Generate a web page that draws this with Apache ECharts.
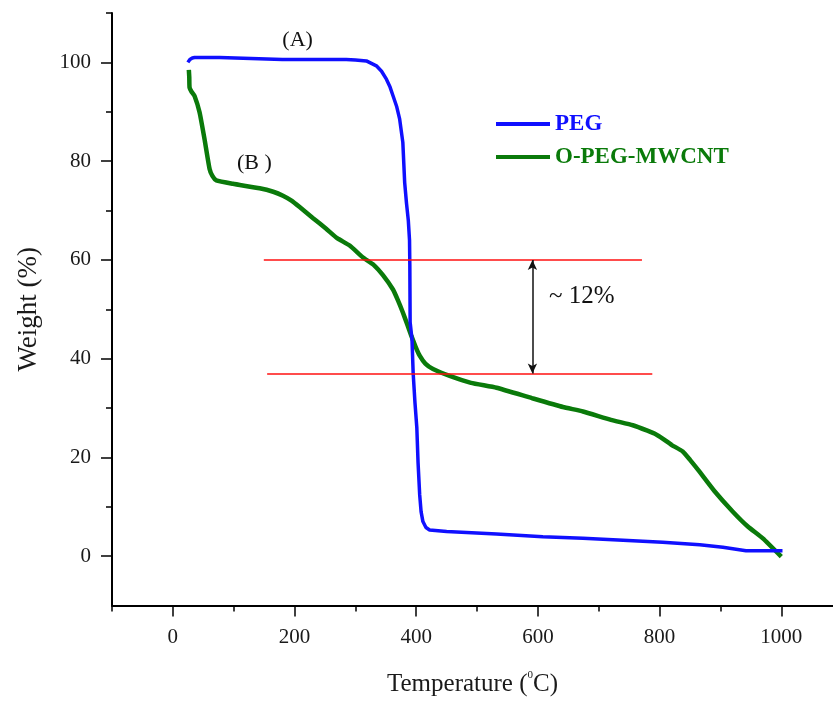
<!DOCTYPE html>
<html>
<head>
<meta charset="utf-8">
<title>TGA curves</title>
<script src="https://cdn.jsdelivr.net/npm/echarts@6/dist/echarts.min.js"></script>
<style>
  html, body { margin: 0; padding: 0; background: #ffffff; }
  #chart { width: 833px; height: 702px; }
</style>
</head>
<body>
<div id="chart"></div>
<script>
// Thermogravimetric curves: temperature (°C) vs remaining weight (%)
const pegTemp = [24.7, 28, 32, 35.7, 76.8, 78, 180, 285, 300, 318, 334.5, 343, 351, 357, 362, 368, 372.8, 378, 381, 384, 387, 389, 389.5, 390, 393, 395, 398, 401, 403, 405.7, 408, 411, 416, 422, 450, 532, 608, 674, 740, 805, 866, 904, 942, 1002];
const pegWeight = [100.0, 100.6, 100.9, 101.0, 101.0, 100.6, 100.6, 100.6, 100.5, 100.3, 99.3, 98.2, 96.6, 95.0, 93.2, 91.0, 88.5, 83.8, 75.7, 71.5, 68.0, 64.0, 58.9, 47.4, 44.0, 37.0, 31.0, 26.0, 19.0, 12.4, 9.0, 7.0, 5.8, 5.3, 5.0, 4.5, 3.9, 3.6, 3.2, 2.8, 2.3, 1.8, 1.1, 1.1];

const cntTemp = [26.3, 27, 27.5, 31, 35.7, 43.9, 52, 60.4, 65, 71.4, 98.7, 142.6, 165, 181, 195, 208.4, 230, 252, 270, 290.6, 312.5, 330, 345.3, 361.8, 370, 378.2, 385, 392, 399, 405.7, 415, 427.6, 455, 490, 532, 590, 641, 674, 720, 756, 780, 795, 805, 820, 838, 850, 865.6, 890, 920.4, 945, 969.7, 1000];
const cntWeight = [98.5, 97.0, 94.9, 94.0, 93.2, 89.9, 84.5, 78.4, 77.0, 76.1, 75.4, 74.5, 73.8, 73.0, 72.0, 70.7, 68.5, 66.3, 64.4, 62.9, 60.5, 59.0, 56.9, 54.0, 51.8, 49.3, 47.0, 44.6, 42.4, 40.6, 39.0, 37.9, 36.5, 35.1, 34.1, 32.0, 30.2, 29.3, 27.6, 26.5, 25.4, 24.6, 23.8, 22.5, 21.2, 19.5, 17.1, 13.2, 9.0, 6.0, 3.6, -0.1];

// Axis tick values
const xMajorTicks = [0, 200, 400, 600, 800, 1000];
const xMinorTicks = [-100, 100, 300, 500, 700, 900];
const yMajorTicks = [0, 20, 40, 60, 80, 100];
const yMinorTicks = [10, 30, 50, 70, 90, 110];

// Horizontal reference levels and the weight-loss arrow
const refLevels = [
  { y: 60, from: 149.5, to: 771 },
  { y: 37, from: 155, to: 788 }
];
const gapArrow = { x: 591, top: 60, bottom: 37 };

// Text annotations placed in data coordinates
const noteNames = ['(A)', '(B )', '~ 12%'];
const noteX = [205, 134, 672];
const noteY = [104.4, 79.5, 52.6];
const noteSizes = [22, 22, 25];

const SERIF = '"Liberation Serif", "DejaVu Serif", serif';
const X_MIN = -100, X_MAX = 1085, Y_MIN = -10, Y_MAX = 110;

const zip = (a, b) => a.map((v, i) => [v, b[i]]);

const chart = echarts.init(document.getElementById('chart'), null, { renderer: 'canvas' });

const baseLabel = { fontFamily: SERIF, fontSize: 21, color: '#1a1a1a', formatter: v => String(v) };

const option = {
  backgroundColor: '#ffffff',
  animation: false,
  grid: { left: 112, right: 0, top: 13, bottom: 95, containLabel: false },
  legend: {
    left: 496,
    top: 112,
    padding: 0,
    orient: 'vertical',
    itemWidth: 54,
    itemHeight: 4,
    itemGap: 9,
    textStyle: { fontFamily: SERIF, fontSize: 23, fontWeight: 'bold', lineHeight: 24 },
    data: [
      { name: 'PEG', icon: 'rect', itemStyle: { color: '#1010ff' }, textStyle: { color: '#1010ff' } },
      { name: 'O-PEG-MWCNT', icon: 'rect', itemStyle: { color: '#0a7a0a' }, textStyle: { color: '#0a7a0a' } }
    ]
  },
  xAxis: [
    {
      type: 'value', min: X_MIN, max: X_MAX,
      axisLine: { show: true, onZero: false, lineStyle: { color: '#000', width: 2 } },
      axisTick: { show: true, customValues: xMajorTicks, length: 11, lineStyle: { color: '#000', width: 1.5 } },
      axisLabel: { show: true, customValues: xMajorTicks, margin: 21, ...baseLabel },
      splitLine: { show: false },
      name: '{t|Temperature (}{s|0}{t|C)}',
      nameLocation: 'middle',
      nameGap: 64,
      nameTextStyle: {
        rich: {
          t: { fontFamily: SERIF, fontSize: 25, color: '#1a1a1a', lineHeight: 30 },
          s: { fontFamily: SERIF, fontSize: 11, color: '#1a1a1a', lineHeight: 14, verticalAlign: 'top' }
        }
      }
    },
    {
      type: 'value', min: X_MIN, max: X_MAX, position: 'bottom', offset: 0,
      axisLine: { show: false, onZero: false },
      axisTick: { show: true, customValues: xMinorTicks, length: 6, lineStyle: { color: '#000', width: 1.5 } },
      axisLabel: { show: false },
      splitLine: { show: false }
    }
  ],
  yAxis: [
    {
      type: 'value', min: Y_MIN, max: Y_MAX,
      axisLine: { show: true, onZero: false, lineStyle: { color: '#000', width: 2 } },
      axisTick: { show: true, customValues: yMajorTicks, length: 11, lineStyle: { color: '#000', width: 1.5 } },
      axisLabel: { show: true, customValues: yMajorTicks, margin: 21, ...baseLabel },
      splitLine: { show: false },
      name: 'Weight (%)',
      nameLocation: 'middle',
      nameRotate: 90,
      nameGap: 70,
      nameTextStyle: { fontFamily: SERIF, fontSize: 27, color: '#1a1a1a' }
    },
    {
      type: 'value', min: Y_MIN, max: Y_MAX, position: 'left', offset: 0,
      axisLine: { show: false, onZero: false },
      axisTick: { show: true, customValues: yMinorTicks, length: 6, lineStyle: { color: '#000', width: 1.5 } },
      axisLabel: { show: false },
      splitLine: { show: false }
    }
  ],
  series: [
    {
      name: 'PEG', type: 'line', xAxisIndex: 0, yAxisIndex: 0,
      data: zip(pegTemp, pegWeight),
      symbol: 'none', smooth: false,
      lineStyle: { color: '#1010ff', width: 3.5 },
      itemStyle: { color: '#1010ff' },
      z: 3
    },
    {
      name: 'O-PEG-MWCNT', type: 'line', xAxisIndex: 0, yAxisIndex: 0,
      data: zip(cntTemp, cntWeight),
      symbol: 'none', smooth: 0.15,
      lineStyle: { color: '#0a7a0a', width: 4.5 },
      itemStyle: { color: '#0a7a0a' },
      z: 2
    },
    {
      name: 'levels', type: 'line', xAxisIndex: 0, yAxisIndex: 0,
      data: [], silent: true,
      markLine: {
        silent: true, symbol: 'none', animation: false,
        label: { show: false },
        lineStyle: { color: '#ff1010', width: 1.5, type: 'solid' },
        data: refLevels.map(r => [{ coord: [r.from, r.y] }, { coord: [r.to, r.y] }])
      },
      z: 4
    },
    {
      name: 'gap', type: 'line', xAxisIndex: 0, yAxisIndex: 0,
      data: [], silent: true,
      markLine: {
        silent: true, symbol: ['arrow', 'arrow'], symbolSize: [7, 10], animation: false,
        label: { show: false },
        lineStyle: { color: '#111', width: 1.5, type: 'solid' },
        data: [[{ coord: [gapArrow.x, gapArrow.bottom] }, { coord: [gapArrow.x, gapArrow.top] }]]
      },
      z: 5
    },
    {
      name: 'notes', type: 'scatter', xAxisIndex: 0, yAxisIndex: 0,
      symbolSize: 0, silent: true,
      data: noteNames.map((n, i) => ({
        name: n, value: [noteX[i], noteY[i]],
        label: { fontSize: noteSizes[i] }
      })),
      label: {
        show: true, position: 'inside', formatter: p => p.name,
        fontFamily: SERIF, color: '#111', textBorderWidth: 0, opacity: 1
      },
      z: 6
    }
  ]
};

chart.setOption(option);
</script>
</body>
</html>
